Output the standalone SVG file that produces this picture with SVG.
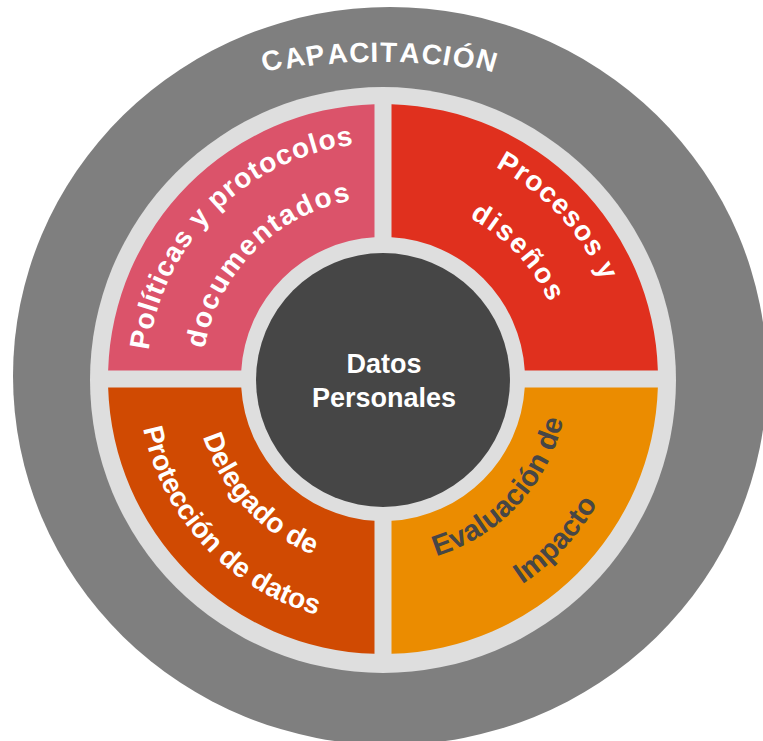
<svg xmlns="http://www.w3.org/2000/svg" xmlns:xlink="http://www.w3.org/1999/xlink" width="763" height="741" viewBox="0 0 763 741">
  <style>
    .t { font-family: "Liberation Sans", Arial, sans-serif; font-weight: bold; }
    .w { fill: #ffffff; }
    .dk { fill: #464646; }
    .so { font-size: 28px; letter-spacing: 1px; }
    .si { font-size: 28px; letter-spacing: 2px; }
    .bl { font-size: 28px; }
    .br { font-size: 29px; }
  </style>
  <defs>
    <path id="p1" d="M 150.6 420.0 A 236 236 0 0 1 424.0 146.6"/>
    <path id="p2" d="M 204.7 410.4 A 181 181 0 0 1 414.4 200.7"/>
    <path id="p3" d="M 349.6 141.3 A 240 240 0 0 1 617.7 428.9"/>
    <path id="p4" d="M 357.5 197.8 A 183 183 0 0 1 562.0 417.0"/>
    <path id="p5" d="M 143.4 328.1 A 245 245 0 0 0 417.1 621.6"/>
    <path id="p6" d="M 198.1 339.7 A 189 189 0 0 0 409.3 566.2"/>
    <path id="p7" d="M 348.5 624.6 A 248 248 0 0 0 625.6 327.4"/>
    <path id="p8" d="M 357.2 562.2 A 185 185 0 0 0 563.9 340.5"/>
  </defs>

  <g id="capacitacion">
    <ellipse cx="390" cy="376" rx="377" ry="369" fill="#7f7f7f"/>
    <text class="t w" font-size="28" x="264.4 286.6 307.4 328.2 349.7 370.5 379.75 398.9 420.6 441.5 450.9 474.2" y="72.6 69.1 66.3 64.3 62.8 62.05 61.84 61.8 62.5 64.4 64.4 66.8" rotate="-16.4 -12.9 -9.8 -6.4 -3.0 -0.7 1.5 4.7 8.1 10.4 12.9 16.4">CAPACITACIÓN</text>
  </g>

  <g id="ring">
    <circle cx="383" cy="380" r="293" fill="#dedede"/>
  </g>

  <g id="politicas">
    <path d="M 374.5 104.13 A 275 275 0 0 0 108.13 370.5 L 241.25 370.5 A 142 142 0 0 1 374.5 237.25 Z" fill="#db536a"/>
    <text class="t w so" text-anchor="middle"><textPath href="#p1" xlink:href="#p1" startOffset="50%">Políticas y protocolos</textPath></text>
    <text class="t w si" text-anchor="middle"><textPath href="#p2" xlink:href="#p2" startOffset="50%">documentados</textPath></text>
  </g>

  <g id="procesos">
    <path d="M 391.5 104.13 A 275 275 0 0 1 657.87 370.5 L 524.75 370.5 A 142 142 0 0 0 391.5 237.25 Z" fill="#e0301e"/>
    <text class="t w so" text-anchor="middle"><textPath href="#p3" xlink:href="#p3" startOffset="50%">Procesos y</textPath></text>
    <text class="t w si" text-anchor="middle"><textPath href="#p4" xlink:href="#p4" startOffset="50%">diseños</textPath></text>
  </g>

  <g id="delegado">
    <path d="M 108.13 387.5 A 275 275 0 0 0 374.5 653.87 L 374.5 520.75 A 142 142 0 0 1 241.25 387.5 Z" fill="#d04a02"/>
    <text class="t w bl" text-anchor="middle"><textPath href="#p6" xlink:href="#p6" startOffset="50%">Delegado de</textPath></text>
    <text class="t w bl" text-anchor="middle"><textPath href="#p5" xlink:href="#p5" startOffset="50%">Protección de datos</textPath></text>
  </g>

  <g id="evaluacion">
    <path d="M 391.5 653.87 A 275 275 0 0 0 657.87 387.5 L 524.75 387.5 A 142 142 0 0 1 391.5 520.75 Z" fill="#eb8c00"/>
    <text class="t dk br" text-anchor="middle"><textPath href="#p8" xlink:href="#p8" startOffset="50%">Evaluación de</textPath></text>
    <text class="t dk br" text-anchor="middle"><textPath href="#p7" xlink:href="#p7" startOffset="50%">Impacto</textPath></text>
  </g>

  <g id="datos">
    <circle cx="383" cy="380" r="127" fill="#464646"/>
    <text class="t w" font-size="27" text-anchor="middle" x="384" y="373">Datos</text>
    <text class="t w" font-size="27" text-anchor="middle" x="384" y="407">Personales</text>
  </g>

  <g id="connectors"/>
</svg>
